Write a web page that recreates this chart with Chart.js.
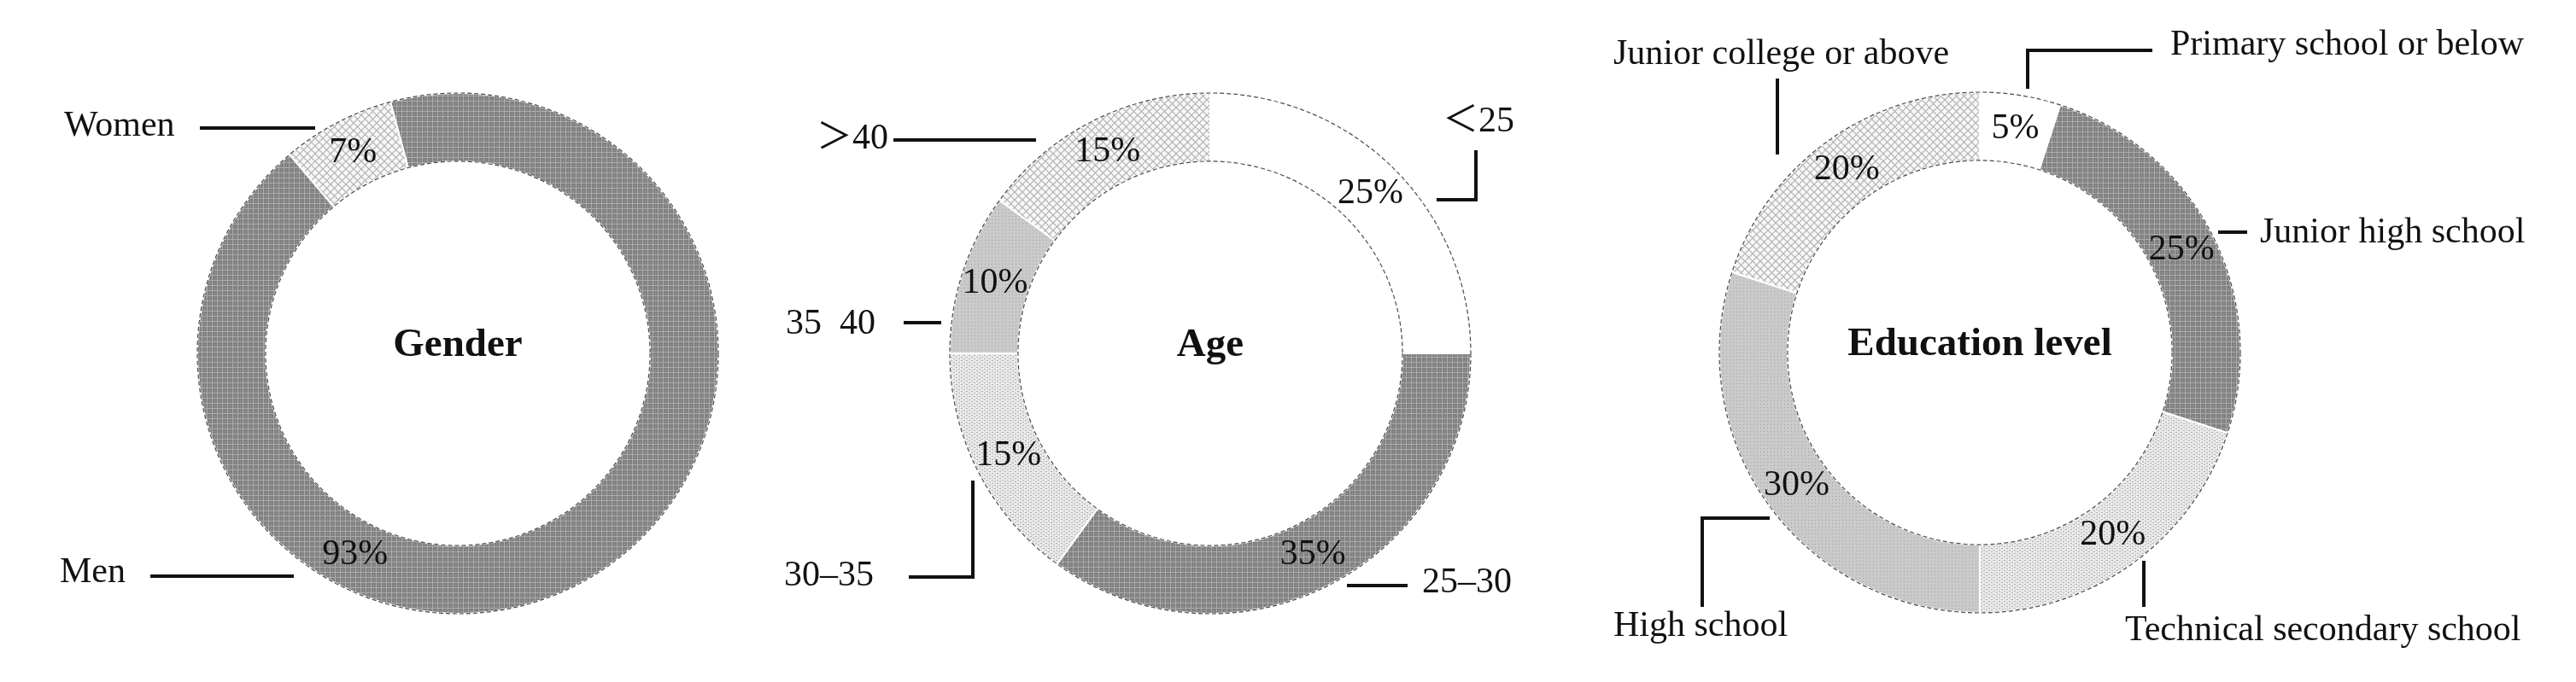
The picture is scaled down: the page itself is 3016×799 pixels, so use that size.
<!DOCTYPE html>
<html>
<head>
<meta charset="utf-8">
<script src="https://cdn.jsdelivr.net/npm/chart.js@4.4.1/dist/chart.umd.min.js"></script>
<style>
  html, body { margin: 0; padding: 0; background: #fff; }
  #wrap { position: relative; width: 3016px; height: 799px; }
  #wrap canvas { position: absolute; left: 0; top: 0; }
</style>
</head>
<body>
<div id="wrap">
  <canvas id="genderChart" width="3016" height="799"></canvas>
  <canvas id="ageChart" width="3016" height="799"></canvas>
  <canvas id="eduChart" width="3016" height="799"></canvas>
</div>
<script>
// Dados dos gráficos
const genderLabels = ['Men', 'Women'];
const genderValues = [93, 7];

const ageLabels = ['\uFF1C25', '25\u201330', '30\u201335', '35  40', '\uFF1E40'];
const ageValues = [25, 35, 15, 10, 15];

const eduLabels = ['Primary school or below', 'Junior high school', 'Technical secondary school', 'High school', 'Junior college or above'];
const eduValues = [5, 25, 20, 30, 20];

const FONT = '"Liberation Serif", "Times New Roman", "Noto Sans CJK SC", serif';

// Texturas em tons de cinza (como na figura impressa)
const makePattern = (w, h, draw) => {
    const c = document.createElement('canvas');
    c.width = w;
    c.height = h;
    const g = c.getContext('2d');
    draw(g);
    return g.createPattern(c, 'repeat');
};

const darkGrid = makePattern(6, 6, (g) => {
    g.fillStyle = '#808080';
    g.fillRect(0, 0, 6, 6);
    g.fillStyle = '#acacac';
    g.fillRect(2, 0, 1, 6);
    g.fillRect(0, 4, 6, 1);
    g.fillStyle = '#969696';
    g.fillRect(5, 1, 1, 2);
});

const crossHatch = makePattern(9, 9, (g) => {
    g.fillStyle = '#f7f7f7';
    g.fillRect(0, 0, 9, 9);
    g.strokeStyle = '#b0b0b0';
    g.lineWidth = 1.2;
    g.beginPath();
    g.moveTo(0, 0); g.lineTo(9, 9);
    g.moveTo(9, 0); g.lineTo(0, 9);
    g.stroke();
});

const midDots = makePattern(4, 4, (g) => {
    g.fillStyle = '#cacaca';
    g.fillRect(0, 0, 4, 4);
    g.fillStyle = '#a2a2a2';
    g.fillRect(1, 1, 1, 1);
});

const lightWeave = makePattern(6, 4, (g) => {
    g.fillStyle = '#ececec';
    g.fillRect(0, 0, 6, 4);
    g.fillStyle = '#adadad';
    g.fillRect(0, 0, 2, 1);
    g.fillRect(3, 2, 2, 1);
    g.fillStyle = '#d0d0d0';
    g.fillRect(4, 0, 1, 1);
    g.fillRect(1, 2, 1, 1);
});

// Rótulos, linhas de chamada e porcentagens
const calloutPlugin = {
    id: 'callouts',
    afterDraw(chart, args, opts) {
        const ctx = chart.ctx;
        const arcs = chart.getDatasetMeta(0).data;
        const values = chart.data.datasets[0].data;
        const labels = chart.data.labels;
        const a0 = arcs[0];

        ctx.save();
        // contorno tracejado do anel
        ctx.strokeStyle = '#4a4a4a';
        ctx.lineWidth = 1.2;
        ctx.setLineDash([5, 3]);
        ctx.beginPath();
        ctx.arc(a0.x, a0.y, a0.outerRadius, 0, Math.PI * 2);
        ctx.stroke();
        ctx.beginPath();
        ctx.arc(a0.x, a0.y, a0.innerRadius, 0, Math.PI * 2);
        ctx.stroke();
        ctx.setLineDash([]);

        // porcentagens dentro do anel
        ctx.fillStyle = '#111';
        ctx.font = '42px ' + FONT;
        ctx.textAlign = 'center';
        ctx.textBaseline = 'middle';
        arcs.forEach((arc, i) => {
            let ang = (arc.startAngle + arc.endAngle) / 2;
            if (opts.pctAngle && opts.pctAngle[i] != null) {
                ang = (opts.pctAngle[i] - 90) * Math.PI / 180;
            }
            const r = (arc.innerRadius + arc.outerRadius) / 2;
            ctx.fillText(values[i] + '%', arc.x + Math.cos(ang) * r, arc.y + Math.sin(ang) * r);
        });

        // título central
        ctx.font = 'bold 47px ' + FONT;
        ctx.fillText(opts.title, a0.x, a0.y - 9);

        // nomes das categorias com linhas
        ctx.font = '42px ' + FONT;
        ctx.textAlign = 'left';
        ctx.strokeStyle = '#111';
        ctx.lineWidth = 4;
        opts.items.forEach((it) => {
            ctx.fillText(labels[it.idx], it.tx, it.ty);
            ctx.beginPath();
            it.line.forEach((p, k) => {
                if (k === 0) ctx.moveTo(p[0], p[1]);
                else ctx.lineTo(p[0], p[1]);
            });
            ctx.stroke();
        });
        ctx.restore();
    }
};

const makeDonut = (id, labels, values, colors, rotation, padding, callouts) => {
    const ctx = document.getElementById(id).getContext('2d');
    return new Chart(ctx, {
        type: 'doughnut',
        data: {
            labels: labels,
            datasets: [{
                data: values,
                backgroundColor: colors,
                borderColor: '#ffffff',
                borderWidth: 2
            }]
        },
        options: {
            responsive: false,
            animation: false,
            devicePixelRatio: 1,
            rotation: rotation,
            radius: 305,
            cutout: '73.8%',
            layout: { padding: padding },
            events: [],
            plugins: {
                legend: { display: false },
                tooltip: { enabled: false },
                title: { display: false },
                callouts: callouts
            }
        },
        plugins: [calloutPlugin]
    });
};

makeDonut('genderChart', genderLabels, genderValues, [darkGrid, crossHatch], -15,
    { left: 226, right: 2170, top: 104, bottom: 75 },
    {
        title: 'Gender',
        pctAngle: [207, null],
        items: [
            { idx: 1, tx: 75, ty: 148, line: [[234, 150], [369, 150]] },
            { idx: 0, tx: 70, ty: 671, line: [[176, 675], [344, 675]] }
        ]
    });

makeDonut('ageChart', ageLabels, ageValues, ['#ffffff', darkGrid, lightWeave, midDots, crossHatch], 0,
    { left: 1107, right: 1289, top: 104, bottom: 75 },
    {
        title: 'Age',
        items: [
            { idx: 0, tx: 1689, ty: 143, line: [[1682, 234], [1728, 234], [1728, 176]] },
            { idx: 1, tx: 1665, ty: 683, line: [[1577, 686], [1648, 686]] },
            { idx: 2, tx: 918, ty: 675, line: [[1064, 676], [1139, 676], [1139, 563]] },
            { idx: 3, tx: 920, ty: 380, line: [[1058, 378], [1102, 378]] },
            { idx: 4, tx: 956, ty: 163, line: [[1046, 164], [1213, 164]] }
        ]
    });

makeDonut('eduChart', eduLabels, eduValues, ['#ffffff', darkGrid, lightWeave, midDots, crossHatch], 0,
    { left: 2008, right: 388, top: 103, bottom: 76 },
    {
        title: 'Education level',
        items: [
            { idx: 0, tx: 2541, ty: 53, line: [[2374, 104], [2374, 59], [2520, 59]] },
            { idx: 1, tx: 2646, ty: 273, line: [[2597, 272], [2631, 272]] },
            { idx: 2, tx: 2488, ty: 739, line: [[2510, 657], [2510, 711]] },
            { idx: 3, tx: 1889, ty: 734, line: [[1993, 711], [1993, 607], [2072, 607]] },
            { idx: 4, tx: 1889, ty: 64, line: [[2081, 92], [2081, 181]] }
        ]
    });
</script>
</body>
</html>
